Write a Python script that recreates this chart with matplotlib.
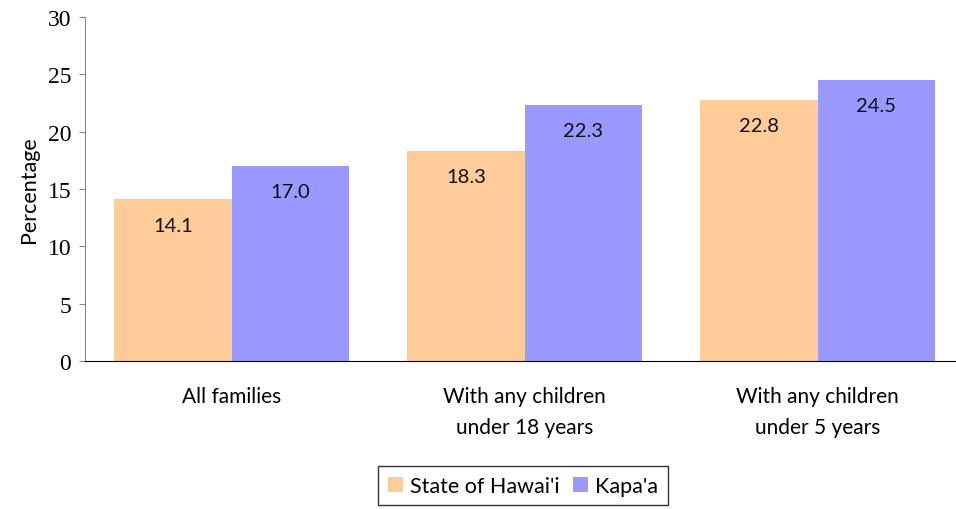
import matplotlib
matplotlib.use("Agg")
import matplotlib.pyplot as plt
import numpy as np

categories = ["All families", "With any children\nunder 18 years", "With any children\nunder 5 years"]
hawaii = [14.1, 18.3, 22.8]
kapaa = [17.0, 22.3, 24.5]
series_names = ["State of Hawai'i", "Kapa'a"]
colors = ["#FFCC99", "#9999FF"]

plt.rcParams["font.family"] = ["Lato", "DejaVu Sans"]

fig = plt.figure(figsize=(9.56, 5.10), dpi=100)
ax = fig.add_axes([0.0889, 0.2902, 0.9101, 0.6745])

x = np.arange(len(categories))
w = 0.401
for vals, off, c, name in [(hawaii, -w / 2, colors[0], series_names[0]),
                           (kapaa, w / 2, colors[1], series_names[1])]:
    bars = ax.bar(x + off, vals, width=w, color=c, label=name, zorder=2)
    for b, v in zip(bars, vals):
        ax.annotate(f"{v:.1f}", (b.get_x() + b.get_width() / 2, v),
                    xytext=(0, -18.5), textcoords="offset points",
                    ha="center", va="center", fontsize=14.5, color="#111111")

ax.set_xlim(-0.5, 2.469)
ax.set_ylim(0, 30)
ax.set_yticks(range(0, 31, 5))
ax.set_xticks(x)
ax.set_xticklabels(categories, fontsize=15, linespacing=1.7)
for lab in ax.get_yticklabels():
    lab.set_family("Liberation Serif")
    lab.set_fontsize(17)
ax.tick_params(axis="x", length=0, pad=18)
ax.tick_params(axis="y", length=4, color="#888888", pad=6)
ax.set_ylabel("Percentage", fontsize=15.5, labelpad=6)
ax.spines["top"].set_visible(False)
ax.spines["right"].set_visible(False)
ax.spines["left"].set_color("#888888")
ax.spines["bottom"].set_color("black")

leg = fig.legend(loc="upper center", bbox_to_anchor=(0.547, 0.0843), ncol=2,
                 fontsize=15.5, frameon=True, fancybox=False, edgecolor="black",
                 handlelength=0.7, handleheight=0.7, handletextpad=0.35,
                 columnspacing=0.6, borderpad=0.45, borderaxespad=0)
leg.get_frame().set_linewidth(1.0)

fig.savefig("out.png", dpi=100)
